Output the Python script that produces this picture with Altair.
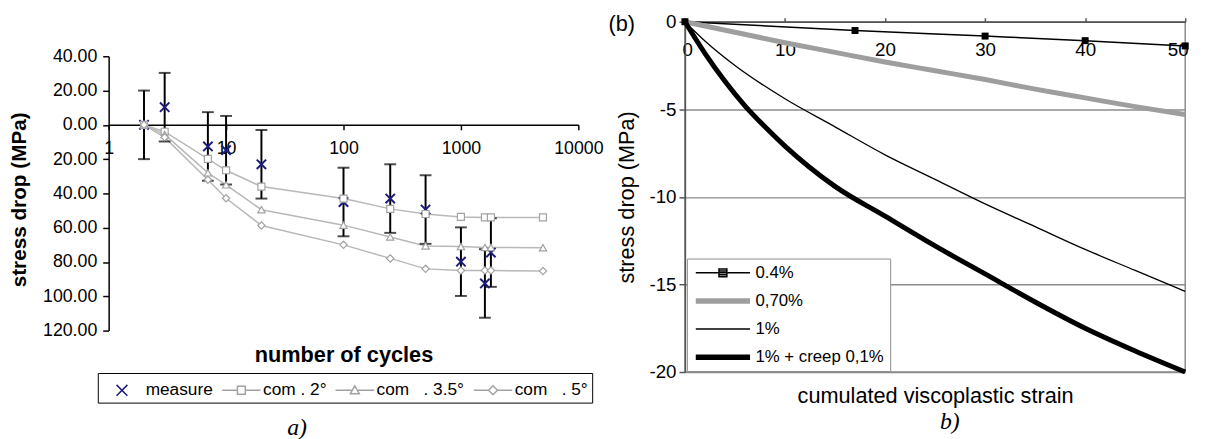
import altair as alt
import pandas as pd

FONT = "Liberation Sans"
SERIF = "Liberation Serif"

# ---------------- a) stress drop vs number of cycles ----------------
cycles = [2, 3, 7, 10, 20, 100, 250, 500, 1000, 1600, 1800, 5000]
com_2 = [0, -4, -19.8, -26.5, -36, -43, -49, -52, -53.7, -54, -54, -54]
com_35 = [0, -5.6, -28, -35, -49.5, -58.5, -65.4, -70.6, -71, -71.5, -71.5, -71.7]
com_5 = [0, -7.3, -32, -42.8, -58.7, -70, -77.9, -84, -85, -85, -85, -85.3]

measure_cycles = [2, 3, 7, 10, 20, 100, 250, 500, 1000, 1600, 1800]
measure_values = [0, 10.3, -12.6, -14.8, -23, -45, -43, -49.4, -79.8, -92.5, -74.5]
measure_error = [20, 20, 20, 20, 20, 20, 20, 20, 20, 20, 20]

series_a = ["measure", "com . 2°", "com\u00a0\u00a0 . 3.5°", "com\u00a0\u00a0 . 5°"]
ticks_a_x = [1, 10, 100, 1000, 10000]
ticks_a_y = [40, 20, 0, -20, -40, -60, -80, -100, -120]

# ---------------- b) stress drop vs cumulated viscoplastic strain ----------------
strain_04 = [0, 17, 30, 40, 50]
drop_04 = [0, -0.5, -0.82, -1.08, -1.38]
strain_07 = [0, 5, 10, 15, 20, 25, 30, 35, 40, 45, 50]
drop_07 = [0, -0.6, -1.2, -1.75, -2.3, -2.8, -3.3, -3.85, -4.35, -4.85, -5.3]
strain_1 = [0, 2, 5, 10, 15, 20, 25, 30, 35, 40, 45, 50]
drop_1 = [0, -1.1, -2.5, -4.4, -6.0, -7.6, -9.0, -10.4, -11.7, -13.0, -14.2, -15.4]
strain_creep = [0, 2, 4, 6, 8, 10, 15, 20, 25, 30, 35, 40, 45, 50]
drop_creep = [0, -1.8, -3.4, -4.8, -6.0, -7.1, -9.4, -11.1, -12.8, -14.4, -16.0, -17.5, -18.8, -20.0]

series_b = ["0.4%", "0,70%", "1%", "1% + creep 0,1%"]
ticks_b_x = [0, 10, 20, 30, 40, 50]
ticks_b_y = [0, -5, -10, -15, -20]
panel_b_tag = ["(b)"]
captions = ["a)", "b)"]

# ---------------- tables ----------------
curves_a = pd.DataFrame({
    "cycles": cycles * 3,
    "value": com_2 + com_35 + com_5,
    "series": [series_a[1]] * len(cycles) + [series_a[2]] * len(cycles) + [series_a[3]] * len(cycles),
})
meas_a = pd.DataFrame({"cycles": measure_cycles, "value": measure_values, "err": measure_error})
meas_a["lo"] = meas_a["value"] - meas_a["err"]
meas_a["hi"] = meas_a["value"] + meas_a["err"]
meas_a["series"] = series_a[0]
legend_a_df = pd.concat([meas_a[["cycles", "value", "series"]], curves_a], ignore_index=True)

df_b = pd.DataFrame({
    "strain": strain_04 + strain_07 + strain_1 + strain_creep,
    "drop": drop_04 + drop_07 + drop_1 + drop_creep,
    "series": [series_b[0]] * len(strain_04) + [series_b[1]] * len(strain_07)
    + [series_b[2]] * len(strain_1) + [series_b[3]] * len(strain_creep),
})

# ---------------- panel a ----------------
NAVY = "#1c1c7c"
GREY_LINE = "#b8b8b8"
GREY_MK = "#a2a2a2"

xs_a = alt.Scale(type="log", domain=[1, 10000])
ys_a = alt.Scale(domain=[-120, 40], range=[313, 35], nice=False, zero=False)

x_axis_a = alt.Axis(
    orient="bottom", offset=-208.5, values=ticks_a_x, format="d", grid=False,
    domainColor="black", domainWidth=1.5, tickColor="black", tickSize=5, tickWidth=1.5,
    labelFontSize=18, labelPadding=10, labelColor="black", labelFlush=False, labelOverlap=False,
    title="number of cycles", titleFontSize=22, titleFontWeight="bold", titleColor="black",
    titleY=233, titleBaseline="middle",
)
y_axis_a = alt.Axis(
    values=ticks_a_y, labelExpr="format(abs(datum.value), '.2f')", grid=False,
    domainColor="black", domainWidth=1.5, tickColor="black", tickSize=6, tickWidth=1.5,
    labelFontSize=18, labelPadding=6, labelColor="black",
    title="stress drop (MPa)", titleFontSize=21, titleFontWeight="bold", titleColor="black",
    titlePadding=13, titleY=180,
)


def xa(field="cycles"):
    return alt.X(f"{field}:Q", scale=xs_a, axis=x_axis_a)


def ya(field="value"):
    return alt.Y(f"{field}:Q", scale=ys_a, axis=y_axis_a)


lines_a = alt.Chart(curves_a).mark_line(color=GREY_LINE, strokeWidth=1.5).encode(
    x=xa(), y=ya(), detail="series:N",
)
err_a = alt.Chart(meas_a).mark_rule(color="black", strokeWidth=2).encode(
    x=xa(), y=ya("lo"), y2="hi:Q",
)
caps_a = alt.Chart(meas_a).transform_fold(["lo", "hi"], as_=["end", "cap"]).mark_tick(
    orient="horizontal", size=12, thickness=2, color="black"
).encode(x=xa(), y=ya("cap"))
meas_pts = alt.Chart(meas_a).mark_point(
    shape="M-1,-1L1,1M-1,1L1,-1", size=90, strokeWidth=2, color=NAVY, filled=False, opacity=1
).encode(x=xa(), y=ya())


def marker_layer(name, shape, size):
    return alt.Chart(curves_a).transform_filter(alt.datum.series == name).mark_point(
        shape=shape, size=size, filled=True, fill="white", stroke=GREY_MK, strokeWidth=1.2, opacity=1
    ).encode(x=xa(), y=ya())


mk_sq = marker_layer(series_a[1], "square", 50)
mk_tri = marker_layer(series_a[2], "triangle-up", 55)
mk_dia = marker_layer(series_a[3], "diamond", 55)

paths_a = [
    "M-0.6,-0.44L0.28,0.44M-0.6,0.44L0.28,-0.44",
    "M-1.56,0H-0.32M0.32,0H1.56M-0.32,-0.32H0.32V0.32H-0.32Z",
    "M-1.56,0H-0.2M0.2,0H1.56M0,-0.36L0.36,0.28H-0.36Z",
    "M-1.56,0H-0.36M0.36,0H1.56M0,-0.36L0.36,0L0,0.36L-0.36,0Z",
]
colors_a = [NAVY, GREY_MK, GREY_MK, GREY_MK]
leg_a = alt.Legend(
    title=None, orient="none", legendX=-11, legendY=356, direction="horizontal",
    symbolSize=625, symbolOffset=9, labelOffset=8.5, columnPadding=6, padding=4,
    strokeColor="black", fillColor="white", labelFontSize=17.5, labelColor="black",
    symbolOpacity=1, labelLimit=0,
)
legend_pts_a = alt.Chart(legend_a_df).mark_point(opacity=0, filled=False, strokeWidth=1.5).encode(
    x=xa(), y=ya(),
    shape=alt.Shape("series:N", scale=alt.Scale(domain=series_a, range=paths_a), legend=leg_a),
    color=alt.Color("series:N", scale=alt.Scale(domain=series_a, range=colors_a), legend=leg_a),
)

panel_a = alt.layer(
    lines_a, err_a, caps_a, meas_pts, mk_sq, mk_tri, mk_dia, legend_pts_a
).properties(
    width=476, height=313,
    title=alt.TitleParams(captions[0], orient="bottom", anchor="middle", frame="group", dx=-47, dy=9,
                          font=SERIF, fontStyle="italic", fontWeight="normal", fontSize=24, color="black"),
)

# ---------------- panel b ----------------
xs_b = alt.Scale(domain=[0, 50], nice=False, zero=False)
ys_b = alt.Scale(domain=[-20, 0], nice=False, zero=False)

x_axis_b = alt.Axis(
    orient="top", values=ticks_b_x, grid=False,
    domainColor="#555555", domainWidth=1.5, tickColor="#555555", tickSize=4, tickWidth=1.5,
    labelFontSize=19, labelPadding=-23, labelBaseline="top", labelFlush=True, labelFlushOffset=3,
    labelColor="black", labelOverlap=False,
    title="cumulated viscoplastic strain", titleFontSize=22, titleFontWeight="normal",
    titleColor="black", titleY=379, titleBaseline="middle",
)
y_axis_b = alt.Axis(
    values=ticks_b_y, grid=True, gridColor="#8c8c8c", gridWidth=1.5,
    labelExpr="datum.value == 0 ? '0' : '-' + format(abs(datum.value), 'd')",
    domainColor="#555555", domainWidth=1.5, tickColor="#555555", tickSize=6, tickWidth=1.5,
    labelFontSize=19, labelPadding=3, labelColor="black",
    title="stress drop (MPa)", titleFontSize=22, titleFontWeight="normal", titleColor="black",
    titlePadding=11,
)


def xb():
    return alt.X("strain:Q", scale=xs_b, axis=x_axis_b)


def yb():
    return alt.Y("drop:Q", scale=ys_b, axis=y_axis_b)


colors_b = ["black", "#9e9e9e", "black", "black"]
widths_b = [1.5, 5, 1.3, 5]

lines_b = []
for name, col, wd in zip(series_b, colors_b, widths_b):
    lines_b.append(
        alt.Chart(df_b).transform_filter(alt.datum.series == name).mark_line(
            color=col, strokeWidth=wd, interpolate="monotone"
        ).encode(x=xb(), y=yb())
    )

mk_04 = alt.Chart(df_b).transform_filter(alt.datum.series == series_b[0]).mark_point(
    shape="square", size=50, filled=True, color="black", opacity=1
).encode(x=xb(), y=yb())

thick = "M-5.5,-0.4H5.5M-5.5,-0.2H5.5M-5.5,0H5.5M-5.5,0.2H5.5M-5.5,0.4H5.5"
paths_b = [
    "M-5.5,0H5.5M-0.8,-0.8H0.8V0.8H-0.8ZM-0.8,-0.4H0.8M-0.8,0.4H0.8",
    thick,
    "M-5.5,0H5.5",
    thick,
]
leg_b = alt.Legend(
    title=None, orient="none", legendX=2, legendY=240, direction="vertical",
    symbolSize=100, symbolOffset=22, labelOffset=24.5, rowPadding=10.5, padding=6,
    strokeColor="#8c8c8c", fillColor="white", labelFontSize=17, labelColor="black",
    symbolOpacity=1, labelLimit=0,
)
legend_pts_b = alt.Chart(df_b).mark_point(opacity=0, filled=False, strokeWidth=1.5).encode(
    x=xb(), y=yb(),
    shape=alt.Shape("series:N", scale=alt.Scale(domain=series_b, range=paths_b), legend=leg_b),
    color=alt.Color("series:N", scale=alt.Scale(domain=series_b, range=colors_b), legend=leg_b),
)

tag_b = alt.Chart(pd.DataFrame({"tag": panel_b_tag})).mark_text(
    font=FONT, fontSize=22, align="center", baseline="middle", color="black"
).encode(text="tag:N", x=alt.value(-64), y=alt.value(2))

panel_b = alt.layer(*lines_b, mk_04, legend_pts_b, tag_b).properties(
    width=507, height=355,
    view=alt.ViewBackground(stroke="#8c8c8c", strokeWidth=1.5),
    title=alt.TitleParams(captions[1], orient="bottom", anchor="middle", frame="group", dx=15,
                          font=SERIF, fontStyle="italic", fontWeight="normal", fontSize=24, color="black"),
)

chart = alt.hconcat(panel_a, panel_b, spacing=108, bounds="flush").resolve_scale(
    color="independent", shape="independent"
).resolve_legend(color="independent", shape="independent").properties(
    padding={"left": 0, "top": 0, "right": 0, "bottom": 0}
).configure_view(stroke="transparent").configure_axis(
    labelFont=FONT, titleFont=FONT
).configure_legend(labelFont=FONT)

chart.save("out.html", embed_options={"renderer": "svg", "actions": False})
